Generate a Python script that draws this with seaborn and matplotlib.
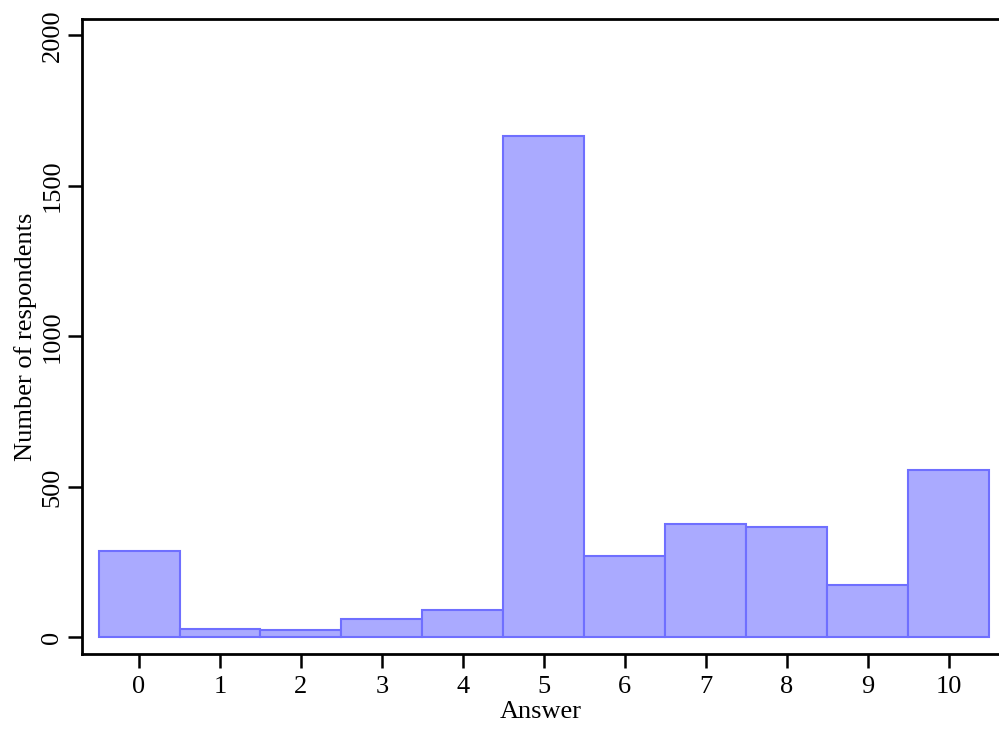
import matplotlib
matplotlib.use("Agg")
import matplotlib.pyplot as plt
import seaborn as sns
import pandas as pd

answers = [0, 1, 2, 3, 4, 5, 6, 7, 8, 9, 10]
respondents = [287, 29, 25, 62, 90, 1666, 270, 378, 365, 175, 557]
x_ticks = [0, 1, 2, 3, 4, 5, 6, 7, 8, 9, 10]
y_ticks = [0, 500, 1000, 1500, 2000]

sns.set_theme(style="ticks")
plt.rcParams['font.family'] = ['Liberation Serif', 'DejaVu Serif']
plt.rcParams['text.color'] = 'black'
plt.rcParams['axes.labelcolor'] = 'black'
plt.rcParams['xtick.color'] = 'black'
plt.rcParams['ytick.color'] = 'black'

df = pd.DataFrame({"Answer": answers, "Count": respondents})

fig = plt.figure(figsize=(9.99, 7.29), dpi=100)
ax = fig.add_axes([0.0816, 0.103, 0.9184, 0.871])

sns.histplot(data=df, x="Answer", weights="Count", discrete=True, ax=ax,
             color="#aaaaff", edgecolor="#6f6fff", linewidth=1.5, alpha=1.0)

ax.set_xlim(-0.71, 10.62)
ax.set_ylim(-55, 2054)
ax.set_xticks(x_ticks)
ax.set_yticks(y_ticks)
ax.set_xticklabels([str(t) for t in x_ticks], fontsize=19, color="black")
ax.set_yticklabels([str(t) for t in y_ticks], fontsize=19, rotation=90, va="center", color="black")
ax.tick_params(axis="both", length=10, width=1.8, color="black")
ax.tick_params(axis="x", pad=6)
ax.tick_params(axis="y", pad=3)
ax.set_xlabel("Answer", fontsize=19, labelpad=2, color="black")
ax.set_ylabel("Number of respondents", fontsize=19, labelpad=3, color="black")

for side in ["left", "bottom", "top"]:
    ax.spines[side].set_linewidth(2)
    ax.spines[side].set_color("black")
ax.spines["right"].set_visible(False)

fig.savefig("out.png", dpi=100)
